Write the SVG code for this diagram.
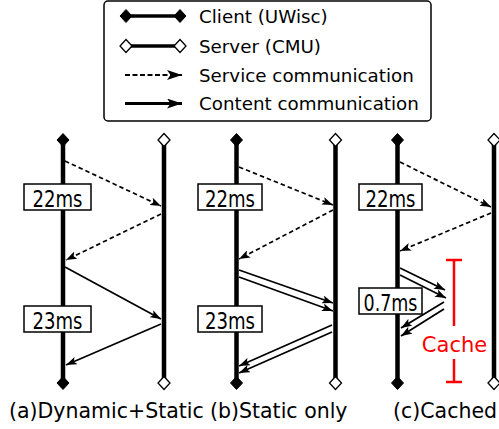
<svg xmlns="http://www.w3.org/2000/svg" width="499" height="429" viewBox="0 0 499 429">
  <style>
    text { font-family: "DejaVu Sans", "Liberation Sans", sans-serif; fill: #000; }
    .legend-text { font-size: 18.3px; }
    .caption { font-size: 20.5px; }
    .lifeline { stroke: #000; stroke-width: 4.5; fill: none; }
    .svc { stroke: #000; stroke-width: 1.7; stroke-dasharray: 4.5 3; fill: none; marker-end: url(#head); }
    .cnt { stroke: #000; stroke-width: 1.7; fill: none; marker-end: url(#head); }
    .dbl { stroke: #000; stroke-width: 1.8; fill: none; marker-end: url(#head); }
    .lat-box { fill: #fff; stroke: #000; stroke-width: 1.5; }
    .lat { font-family: "DejaVu Sans Condensed", "DejaVu Sans", sans-serif; font-size: 23.5px; text-anchor: middle; }
    .client-end { fill: #000; stroke: #000; stroke-width: 1; }
    .server-end { fill: #fff; stroke: #000; stroke-width: 1.3; }
  </style>
  <defs>
    <marker id="head" viewBox="0 0 11 8" markerWidth="11" markerHeight="8" refX="11" refY="4" orient="auto" markerUnits="userSpaceOnUse">
      <path d="M0,0 L11,4 L0,8 L2.5,4 z" fill="#000"/>
    </marker>
    <marker id="head-lg" viewBox="0 0 15 10" markerWidth="15" markerHeight="10" refX="15" refY="5" orient="auto" markerUnits="userSpaceOnUse">
      <path d="M0,0 L15,5 L0,10 L3.5,5 z" fill="#000"/>
    </marker>
    <path id="dia" d="M0,-6.5 L6,0 L0,6.5 L-6,0 z"/>
  </defs>

  <!-- legend -->
  <g id="legend">
    <rect x="104" y="1" width="327" height="120" rx="4" ry="4" fill="#fff" stroke="#000" stroke-width="1.5"/>
    <line x1="126" y1="16" x2="180" y2="16" stroke="#000" stroke-width="3.5"/>
    <use href="#dia" x="126" y="16" class="client-end"/>
    <use href="#dia" x="180" y="16" class="client-end"/>
    <text class="legend-text" x="199" y="22.5">Client (UWisc)</text>
    <line x1="126" y1="46" x2="180" y2="46" stroke="#000" stroke-width="3.5"/>
    <use href="#dia" x="126" y="46" class="server-end"/>
    <use href="#dia" x="180" y="46" class="server-end"/>
    <text class="legend-text" x="199" y="52.5">Server (CMU)</text>
    <line x1="125" y1="75" x2="182" y2="75" stroke="#000" stroke-width="2" stroke-dasharray="5 2.5" marker-end="url(#head-lg)"/>
    <text class="legend-text" x="199" y="81.5">Service communication</text>
    <line x1="125" y1="103.5" x2="182" y2="103.5" stroke="#000" stroke-width="2.8" marker-end="url(#head-lg)"/>
    <text class="legend-text" x="199" y="110">Content communication</text>
  </g>

  <!-- lifelines -->
  <g id="lifelines">
    <g id="a-client">
      <line class="lifeline" x1="63" y1="140" x2="63" y2="383"/>
      <use href="#dia" x="63" y="140" class="client-end"/>
      <use href="#dia" x="63" y="383" class="client-end"/>
    </g>
    <g id="a-server">
      <line class="lifeline" x1="164" y1="140" x2="164" y2="383"/>
      <use href="#dia" x="164" y="140" class="server-end"/>
      <use href="#dia" x="164" y="383" class="server-end"/>
    </g>
    <g id="b-client">
      <line class="lifeline" x1="236.5" y1="140" x2="236.5" y2="383"/>
      <use href="#dia" x="236.5" y="140" class="client-end"/>
      <use href="#dia" x="236.5" y="383" class="client-end"/>
    </g>
    <g id="b-server">
      <line class="lifeline" x1="335.5" y1="140" x2="335.5" y2="383"/>
      <use href="#dia" x="335.5" y="140" class="server-end"/>
      <use href="#dia" x="335.5" y="383" class="server-end"/>
    </g>
    <g id="c-client">
      <line class="lifeline" x1="397.5" y1="140" x2="397.5" y2="383"/>
      <use href="#dia" x="397.5" y="140" class="client-end"/>
      <use href="#dia" x="397.5" y="383" class="client-end"/>
    </g>
    <g id="c-server">
      <line class="lifeline" x1="494" y1="140" x2="494" y2="383"/>
      <use href="#dia" x="494" y="140" class="server-end"/>
      <use href="#dia" x="494" y="383" class="server-end"/>
    </g>
  </g>

  <!-- messages -->
  <g id="connectors">
    <!-- (a) dynamic + static -->
    <line class="svc" x1="65" y1="161" x2="161" y2="206"/>
    <line class="svc" x1="161" y1="214" x2="66" y2="260"/>
    <line class="cnt" x1="65" y1="267" x2="161" y2="319"/>
    <line class="cnt" x1="161" y1="324" x2="66" y2="365"/>
    <!-- (b) static only -->
    <line class="svc" x1="239" y1="167" x2="333" y2="205"/>
    <line class="svc" x1="333" y1="210" x2="239" y2="259"/>
    <line class="dbl" x1="239" y1="270" x2="333" y2="303"/>
    <line class="dbl" x1="239" y1="277" x2="333" y2="311"/>
    <line class="dbl" x1="332" y1="325" x2="239" y2="366"/>
    <line class="dbl" x1="332" y1="332" x2="239" y2="373"/>
    <!-- (c) cached -->
    <line class="svc" x1="400" y1="162" x2="491" y2="207"/>
    <line class="svc" x1="491" y1="213" x2="400" y2="251"/>
    <line class="dbl" x1="400" y1="268" x2="445" y2="290"/>
    <line class="dbl" x1="400" y1="275" x2="446" y2="298"/>
    <line class="dbl" x1="444" y1="302" x2="401" y2="328"/>
    <line class="dbl" x1="444" y1="309" x2="401" y2="336"/>
  </g>

  <!-- latency labels -->
  <g id="lat-a1"><rect class="lat-box" x="24" y="184" width="67" height="26"/><text class="lat" x="57.5" y="207" textLength="50" lengthAdjust="spacingAndGlyphs">22ms</text></g>
  <g id="lat-a2"><rect class="lat-box" x="24" y="306" width="67" height="26"/><text class="lat" x="57.5" y="329" textLength="50" lengthAdjust="spacingAndGlyphs">23ms</text></g>
  <g id="lat-b1"><rect class="lat-box" x="198" y="184" width="64" height="26"/><text class="lat" x="230" y="207" textLength="50" lengthAdjust="spacingAndGlyphs">22ms</text></g>
  <g id="lat-b2"><rect class="lat-box" x="198" y="306" width="64" height="26"/><text class="lat" x="230" y="329" textLength="50" lengthAdjust="spacingAndGlyphs">23ms</text></g>
  <g id="lat-c1"><rect class="lat-box" x="359" y="184" width="63" height="26"/><text class="lat" x="390.5" y="207" textLength="50" lengthAdjust="spacingAndGlyphs">22ms</text></g>
  <g id="lat-c2"><rect class="lat-box" x="359" y="288" width="63" height="26"/><text class="lat" x="390.5" y="311" textLength="54" lengthAdjust="spacingAndGlyphs">0.7ms</text></g>

  <!-- cache span -->
  <g id="cache" stroke="#f00" stroke-width="2.5">
    <line x1="454" y1="260" x2="454" y2="326"/>
    <line x1="454" y1="359" x2="454" y2="382"/>
    <line x1="446" y1="260" x2="462" y2="260"/>
    <line x1="446" y1="382" x2="462" y2="382"/>
    <text x="454.5" y="352" stroke="none" font-size="21" text-anchor="middle" style="fill:#f00">Cache</text>
  </g>

  <!-- captions -->
  <g id="captions">
    <text class="caption" x="9" y="418">(a)Dynamic+Static</text>
    <text class="caption" x="210" y="418">(b)Static only</text>
    <text class="caption" x="393" y="418">(c)Cached</text>
  </g>
</svg>
